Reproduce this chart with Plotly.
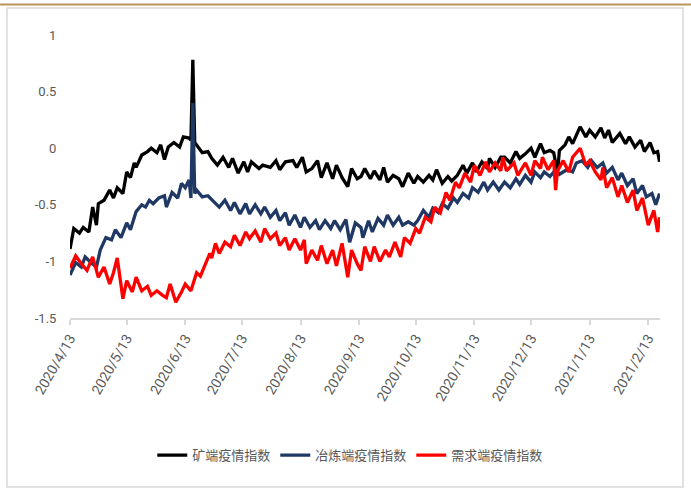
import pandas as pd
import plotly.graph_objects as go

START = "2020-04-13"

# 矿端疫情指数 (day offset from 2020/4/13, value)
mine_days = [0, 2, 5, 7, 10, 12, 14, 15, 18, 21, 23, 25, 28, 30, 32, 34, 35, 38, 41, 43,
             46, 48, 50, 52, 55, 58, 60, 63, 64, 65, 66, 67, 70, 73, 75, 78, 81, 84, 86, 89,
             92, 94, 96, 100, 102, 106, 109, 111, 114, 118, 120, 123, 125, 128, 131, 133, 136, 139, 141, 144,
             147, 149, 152, 154, 156, 159, 161, 164, 166, 168, 171, 174, 176, 179, 182, 184, 187, 190, 192, 194,
             197, 200, 202, 205, 208, 210, 213, 215, 218, 221, 222, 225, 228, 230, 233, 236, 238, 241, 244, 246,
             249, 251, 254, 256, 258, 259, 262, 264, 266, 270, 273, 275, 278, 281, 283, 285, 287, 291, 294, 296,
             299, 302, 304, 307, 309, 311, 312]
mine_vals = [-0.89, -0.71, -0.75, -0.70, -0.74, -0.52, -0.68, -0.49, -0.46, -0.37, -0.44, -0.35, -0.40, -0.21, -0.26, -0.13, -0.17, -0.06, -0.03, 0.00,
             -0.04, 0.03, -0.10, 0.01, 0.05, 0.01, 0.10, 0.09, 0.07, 0.78, 0.05, 0.03, -0.04, -0.03, -0.09, -0.15, -0.08, -0.17, -0.09, -0.22,
             -0.12, -0.21, -0.12, -0.18, -0.15, -0.17, -0.11, -0.19, -0.12, -0.11, -0.17, -0.08, -0.21, -0.18, -0.11, -0.26, -0.13, -0.27, -0.15, -0.26,
             -0.34, -0.18, -0.27, -0.25, -0.18, -0.27, -0.20, -0.28, -0.17, -0.30, -0.24, -0.27, -0.34, -0.22, -0.31, -0.25, -0.30, -0.24, -0.28, -0.19,
             -0.31, -0.25, -0.29, -0.24, -0.15, -0.22, -0.13, -0.21, -0.12, -0.18, -0.09, -0.17, -0.08, -0.08, -0.13, -0.03, -0.09, -0.05, 0.00, -0.08,
             0.04, -0.04, -0.02, -0.04, -0.22, -0.02, 0.03, 0.10, 0.04, 0.19, 0.10, 0.16, 0.10, 0.18, 0.09, 0.16, 0.05, 0.13, 0.04, 0.10,
             0.01, 0.07, -0.03, 0.05, -0.04, -0.03, -0.12]

# 冶炼端疫情指数
smelt_days = [0, 3, 6, 8, 11, 14, 16, 19, 22, 24, 27, 30, 32, 35, 38, 40, 42, 44, 47, 50,
              51, 54, 57, 59, 61, 63, 64, 65, 66, 67, 70, 73, 79, 82, 85, 87, 90, 93, 95, 98,
              101, 103, 106, 109, 111, 114, 116, 119, 122, 124, 127, 130, 132, 135, 138, 140, 143, 146, 148, 151,
              154, 155, 158, 160, 163, 166, 168, 171, 174, 176, 179, 182, 184, 187, 190, 192, 195, 197, 200, 203,
              205, 208, 211, 213, 216, 219, 221, 224, 227, 230, 233, 236, 238, 241, 244, 246, 249, 251, 254, 257,
              259, 263, 266, 268, 271, 274, 276, 279, 282, 284, 287, 290, 292, 295, 298, 300, 303, 305, 308, 310,
              312]
smelt_vals = [-1.12, -1.01, -1.05, -0.96, -1.01, -1.05, -0.90, -0.79, -0.81, -0.72, -0.79, -0.66, -0.72, -0.56, -0.50, -0.52, -0.46, -0.49, -0.44, -0.42,
              -0.52, -0.39, -0.44, -0.31, -0.35, -0.28, -0.44, 0.40, -0.40, -0.37, -0.43, -0.42, -0.52, -0.46, -0.55, -0.48, -0.58, -0.49, -0.58, -0.50,
              -0.58, -0.52, -0.61, -0.55, -0.64, -0.57, -0.68, -0.59, -0.70, -0.61, -0.70, -0.64, -0.72, -0.64, -0.71, -0.64, -0.72, -0.63, -0.83, -0.66,
              -0.70, -0.79, -0.64, -0.74, -0.62, -0.68, -0.59, -0.68, -0.61, -0.68, -0.65, -0.68, -0.64, -0.55, -0.61, -0.53, -0.57, -0.49, -0.53, -0.44,
              -0.48, -0.40, -0.44, -0.35, -0.39, -0.30, -0.37, -0.30, -0.37, -0.30, -0.35, -0.27, -0.32, -0.24, -0.30, -0.21, -0.26, -0.21, -0.25, -0.19,
              -0.23, -0.19, -0.21, -0.13, -0.11, -0.17, -0.11, -0.17, -0.13, -0.22, -0.17, -0.28, -0.22, -0.33, -0.27, -0.40, -0.33, -0.43, -0.40, -0.50,
              -0.40]

# 需求端疫情指数
demand_days = [0, 3, 6, 9, 12, 15, 18, 21, 23, 25, 28, 30, 33, 35, 38, 41, 43, 46, 49, 51,
               53, 56, 59, 61, 64, 67, 69, 71, 74, 75, 77, 79, 82, 85, 87, 90, 93, 95, 98, 101,
               103, 106, 109, 111, 114, 116, 119, 122, 124, 125, 128, 131, 133, 136, 139, 141, 144, 147, 149, 152,
               154, 156, 159, 161, 164, 167, 169, 172, 175, 177, 180, 183, 185, 188, 191, 193, 196, 199, 201, 204,
               206, 209, 212, 214, 217, 220, 222, 225, 228, 229, 231, 235, 237, 241, 244, 246, 249, 250, 253, 256,
               257, 258, 261, 264, 266, 270, 273, 275, 278, 281, 282, 284, 287, 290, 292, 295, 298, 300, 303, 306,
               309, 311, 312]
demand_vals = [-1.06, -0.95, -1.02, -1.08, -0.96, -1.14, -1.05, -1.20, -1.10, -0.97, -1.33, -1.17, -1.27, -1.14, -1.26, -1.22, -1.30, -1.26, -1.30, -1.32,
               -1.20, -1.36, -1.27, -1.20, -1.26, -1.10, -1.13, -1.05, -0.93, -0.97, -0.84, -0.93, -0.83, -0.87, -0.77, -0.86, -0.74, -0.80, -0.73, -0.83,
               -0.71, -0.80, -0.75, -0.86, -0.79, -0.90, -0.80, -0.90, -0.81, -1.02, -0.90, -0.99, -0.86, -1.02, -0.90, -1.04, -0.84, -1.14, -0.90, -1.02,
               -1.08, -0.87, -1.00, -0.87, -1.00, -0.90, -0.96, -0.83, -0.96, -0.79, -0.84, -0.71, -0.75, -0.61, -0.65, -0.52, -0.57, -0.39, -0.46, -0.30,
               -0.35, -0.22, -0.30, -0.15, -0.24, -0.12, -0.21, -0.13, -0.20, -0.08, -0.20, -0.13, -0.24, -0.13, -0.24, -0.11, -0.18, -0.08, -0.19, -0.11,
               -0.37, -0.20, -0.11, -0.21, -0.08, 0.00, -0.15, -0.11, -0.21, -0.28, -0.17, -0.35, -0.26, -0.43, -0.33, -0.48, -0.37, -0.55, -0.44, -0.68,
               -0.55, -0.74, -0.61]

series = [
    ("矿端疫情指数", mine_days, mine_vals, "#000000"),
    ("冶炼端疫情指数", smelt_days, smelt_vals, "#1f3864"),
    ("需求端疫情指数", demand_days, demand_vals, "#ff0000"),
]

base = pd.Timestamp(START)
fig = go.Figure()
for name, days, vals, color in series:
    dates = base + pd.to_timedelta(days, unit="D")
    fig.add_trace(go.Scatter(
        x=dates, y=vals, name=name, mode="lines",
        line=dict(color=color, width=3.3),
    ))

y_font = dict(family="Roboto, Arial, sans-serif", size=13, color="#595959")
x_font = dict(family="Roboto, Arial, sans-serif", size=14, color="#595959")

fig.update_layout(
    width=691, height=489,
    margin=dict(l=70, r=31, t=35, b=171),
    paper_bgcolor="white", plot_bgcolor="white",
    showlegend=True,
    legend=dict(
        orientation="h", x=0.475, xanchor="center", y=-0.485, yanchor="middle",
        font=dict(family="Noto Sans CJK SC, sans-serif", size=13, color="#595959"),
        itemwidth=30, tracegroupgap=0,
    ),
    xaxis=dict(
        type="date",
        range=[START, "2021-02-19 06:00"],
        tick0=START, dtick="M1", tickformat="%Y/%-m/%-d",
        tickangle=-60, tickfont=x_font,
        showgrid=False, zeroline=False,
        showline=True, linecolor="#d9d9d9", linewidth=1.5,
        ticks="outside", ticklen=5, tickcolor="#d9d9d9", tickwidth=1.5,
    ),
    yaxis=dict(
        range=[-1.5, 1], tickvals=[-1.5, -1, -0.5, 0, 0.5, 1],
        ticktext=["-1.5", "-1", "-0.5", "0", "0.5", "1"],
        tickfont=y_font,
        showgrid=False, zeroline=False, showline=False,
        ticks="outside", ticklen=10, tickcolor="rgba(0,0,0,0)",
    ),
)

# outer frame of the chart
def px_to_paper(x, y):
    return (x - 70) / 590, (318 - y) / 283

x0, y0 = px_to_paper(0, 4.5)
x1, _ = px_to_paper(691, 4.5)
fig.add_shape(type="line", xref="paper", yref="paper", x0=x0, x1=x1, y0=y0, y1=y0,
              line=dict(color="#b8955a", width=2))
bx0, by0 = px_to_paper(7, 8)
bx1, by1 = px_to_paper(683, 487)
fig.add_shape(type="rect", xref="paper", yref="paper", x0=bx0, x1=bx1, y0=by1, y1=by0,
              line=dict(color="#d9d9d9", width=1.5), layer="below")

fig.write_html("out.html")
